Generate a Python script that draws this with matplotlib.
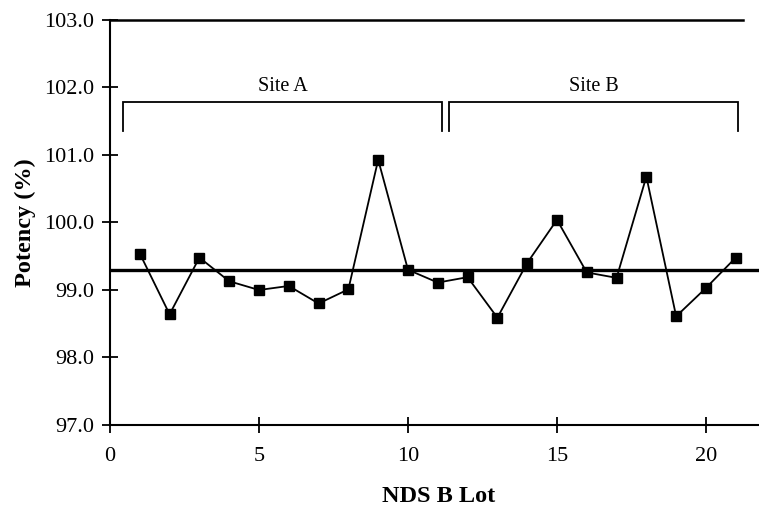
import matplotlib
matplotlib.use("Agg")
import matplotlib.pyplot as plt

# Potency of each NDS B lot
lots = list(range(1, 22))
potency = [99.54, 98.64, 99.48, 99.13, 99.00, 99.06, 98.80, 99.01, 100.93, 99.30,
           99.11, 99.19, 98.59, 99.40, 100.04, 99.26, 99.18, 100.68, 98.61, 99.03, 99.48]
mean_potency = 99.3

# Manufacturing site groupings (lot span for each bracket)
sites = ["Site A", "Site B"]
site_spans = [(0.45, 11.13), (11.36, 21.09)]

x_ticks = [0, 5, 10, 15, 20]
y_ticks = [97.0, 98.0, 99.0, 100.0, 101.0, 102.0, 103.0]

plt.rcParams["font.family"] = ["Liberation Serif", "DejaVu Serif"]

fig = plt.figure(figsize=(7.59, 5.09), dpi=100)
ax = fig.add_axes([110 / 759, 1 - 425 / 509, 1 - 110 / 759, 405 / 509])

ax.plot(lots, potency, color="black", lw=1.3, marker="s", ms=7.5,
        mfc="black", mec="black", zorder=3)
ax.axhline(mean_potency, color="black", lw=2.4, zorder=2)

# Site brackets
bracket_top = 101.79
bracket_bottom = 101.35
for name, (x0, x1) in zip(sites, site_spans):
    ax.plot([x0, x0, x1, x1], [bracket_bottom, bracket_top, bracket_top, bracket_bottom],
            color="black", lw=1.3, solid_joinstyle="miter")
    ax.text((x0 + x1) / 2, 101.87, name, ha="center", va="bottom", fontsize=14.5)

ax.set_xlim(0, 21.78)
ax.set_ylim(97, 103)
ax.set_xticks(x_ticks)
ax.set_yticks(y_ticks)
ax.set_yticklabels([f"{v:.1f}" for v in y_ticks])

for side in ["right", "top"]:
    ax.spines[side].set_visible(False)
for side in ["left", "bottom"]:
    ax.spines[side].set_linewidth(1.5)
# Top frame line stops short of the right edge
ax.axhline(103, xmin=0, xmax=21.24 / 21.78, color="black", lw=1.8, clip_on=False)

ax.tick_params(axis="both", direction="inout", length=11, width=1.3,
               labelsize=16, colors="black")
ax.tick_params(axis="x", pad=10)
ax.tick_params(axis="y", pad=6)

ax.set_xlabel("NDS B Lot", fontsize=17.5, fontweight="bold")
ax.xaxis.set_label_coords((438.5 - 110) / 649, (425 - 497) / 405)
ax.xaxis.label.set_va("center")
ax.set_ylabel("Potency (%)", fontsize=17.5, fontweight="bold")
ax.yaxis.set_label_coords((25 - 110) / 649, (425 - 223) / 405)
ax.yaxis.label.set_va("center")

fig.savefig("out.png", dpi=100)
